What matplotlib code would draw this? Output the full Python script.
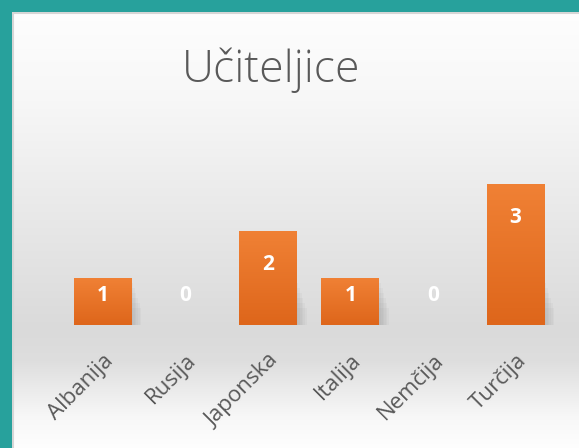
import matplotlib
matplotlib.use('Agg')
import matplotlib.pyplot as plt
from matplotlib.colors import LinearSegmentedColormap
import numpy as np

plt.rc('font', family=['Open Sans', 'DejaVu Sans'])

# Data ========================================================================
categories = ['Albanija', 'Rusija', 'Japonska', 'Italija', 'Nemčija', 'Turčija']
values = [1, 0, 2, 1, 0, 3]
title = 'Učiteljice'

W, H = 579, 448
fig = plt.figure(figsize=(W / 100, H / 100), dpi=100)
fig.patch.set_facecolor('#27a19c')

# background panel with soft vertical gradient
bg = fig.add_axes([12 / W, 0, (W - 12) / W, (H - 12) / H])
bg.set_axis_off()
ys = np.linspace(0, 1, 400)  # 0 = top, 1 = bottom of panel
stops_y = [0.0, 0.2, 0.73, 0.8, 0.93, 1.0]
stops_v = [0.995, 0.97, 0.855, 0.87, 0.97, 0.995]
shade = np.interp(ys, stops_y, stops_v)
bg.imshow(np.repeat(shade[:, None, None], 3, axis=2),
          aspect='auto', extent=[0, 1, 0, 1], interpolation='bilinear')
bg.set_xlim(0, 1)
bg.set_ylim(0, 1)
# thin light rim next to the teal border
bg.plot([0.002, 0.002], [0, 1], color='#d6d6d6', lw=1.5)
bg.plot([0, 1], [0.998, 0.998], color='#d6d6d6', lw=1.5)

# bars ------------------------------------------------------------------------
step = 82.6
left = 102.5 - step / 2
base = 123
unit = 47
ax = fig.add_axes([left / W, base / H, 6 * step / W, 3.2 * unit / H])
ax.patch.set_alpha(0)
x = np.arange(len(categories))
bars = ax.bar(x, values, width=0.70, color='#e8732a', zorder=3)
ax.set_xlim(-0.5, len(categories) - 0.5)
ax.set_ylim(0, 3.2)

orange = LinearSegmentedColormap.from_list('o', ['#de661b', '#f08135'])
grad = np.linspace(0, 1, 100).reshape(-1, 1)
for b, v in zip(bars, values):
    if v == 0:
        continue
    x0, w = b.get_x(), b.get_width()
    # soft shadow at the lower right
    for k in range(6):
        ax.add_patch(plt.Rectangle((x0 + w, 0), 0.02 * (k + 1), min(v, 0.9) * (1 - k * 0.12),
                                   color='#8a8a8a', alpha=0.07, lw=0, zorder=2))
    im = ax.imshow(grad, cmap=orange, aspect='auto', origin='lower',
                   extent=[x0, x0 + w, 0, v], zorder=4)
    im.set_clip_path(b)

for xi, v in zip(x, values):
    ax.text(xi, max(v - 0.72, 0.62), str(v), ha='center', va='center',
            color='white', fontsize=15, fontweight='bold', zorder=5)

for s in ax.spines.values():
    s.set_visible(False)
ax.set_yticks([])
ax.set_xticks(x)
ax.set_xticklabels(categories, rotation=45, ha='right', rotation_mode='anchor',
                   color='#595959', fontsize=16)
ax.tick_params(axis='x', length=0, pad=18)

fig.text(271 / W, 1 - 70 / H, title, ha='center', va='center',
         fontsize=32, color='#595959', fontweight='light')

fig.savefig('out.png', dpi=100, facecolor=fig.get_facecolor())
